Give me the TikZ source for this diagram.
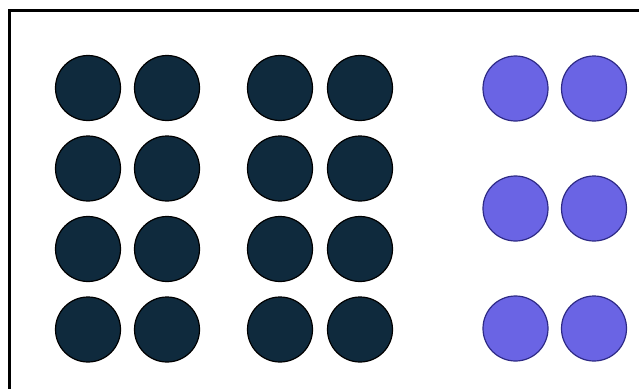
\documentclass[tikz,border=0pt]{standalone}
\definecolor{navy}{HTML}{0F2A3D}
\definecolor{violet}{HTML}{6A64E4}
\definecolor{violetedge}{HTML}{2E2A86}
\begin{document}
\begin{tikzpicture}[x=1pt,y=-1pt,
  darkdot/.style={circle,fill=navy,draw=black,line width=1.2pt,minimum size=65pt,inner sep=0pt},
  purpledot/.style={circle,fill=violet,draw=violetedge,line width=1.2pt,minimum size=65pt,inner sep=0pt}]
\useasboundingbox (0,0) rectangle (639,388);
\fill[white] (0,0) rectangle (639,388);
\draw[line width=3pt,line cap=butt] (9.5,390) -- (9.5,10.5) -- (641,10.5);
\foreach \r/\y in {1/88,2/168.5,3/249,4/329.5}{
  \foreach \c/\x in {1/88,2/167,3/280,4/360}{
    \node[darkdot] (d\r\c) at (\x,\y) {};
  }
}
\foreach \r/\y in {1/88.5,2/208.5,3/328.5}{
  \foreach \c/\x in {1/515.5,2/594}{
    \node[purpledot] (p\r\c) at (\x,\y) {};
  }
}
\end{tikzpicture}
\end{document}
